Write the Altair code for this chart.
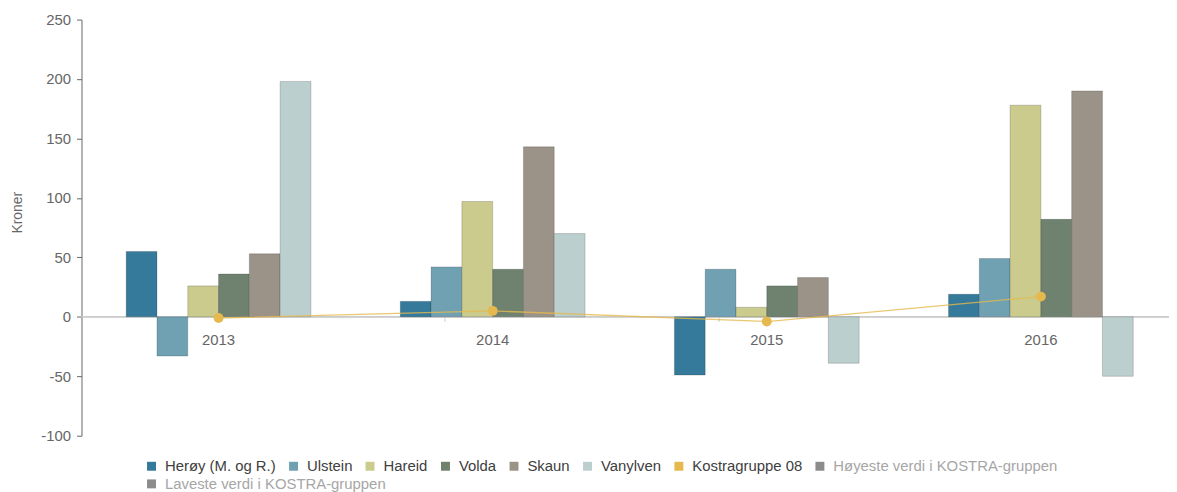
import altair as alt
import pandas as pd

years = ["2013", "2014", "2015", "2016"]
series = ["Herøy (M. og R.)", "Ulstein", "Hareid", "Volda", "Skaun", "Vanylven"]
heroy = [55, 13, -49, 19]
ulstein = [-33, 42, 40, 49]
hareid = [26, 97, 8, 178]
volda = [36, 40, 26, 82]
skaun = [53, 143, 33, 190]
vanylven = [198, 70, -39, -50]
kostra_name = "Kostragruppe 08"
kostra = [-1, 5, -4, 17]
hoyeste_name = "Høyeste verdi i KOSTRA-gruppen"
laveste_name = "Laveste verdi i KOSTRA-gruppen"
legend_names = series + [kostra_name, hoyeste_name]
colors = ["#357a9a", "#70a1b3", "#cacb8c", "#6e826f", "#9b9388", "#bccfcf",
          "#e6b94f", "#8c8c8c"]
hidden_color = "#8c8c8c"
y_ticks = [-100, -50, 0, 50, 100, 150, 200, 250]

values_by_series = [heroy, ulstein, hareid, volda, skaun, vanylven]
rows = []
for name, vals in zip(series, values_by_series):
    for yr, v in zip(years, vals):
        rows.append({"year": yr, "series": name, "value": v})
df = pd.DataFrame(rows)
kdf = pd.DataFrame({"year": years, "series": kostra_name, "value": kostra})
sep_df = pd.DataFrame({"year": years[:-1]})

FONT = "Liberation Sans"
W, H = 1095, 419
STEP = 276
GROUP = 186
LABEL_COLOR_EXPR = "indexof(datum.label, 'KOSTRA-gruppen') >= 0 ? '#a6a6a6' : '#404040'"

# band range is one full step per year; the last band runs past the visible plot edge
x_scale = alt.Scale(range=[0, {"expr": str(4 * STEP)}], paddingInner=(STEP - GROUP) / STEP,
                    paddingOuter=(STEP - GROUP) / 2 / STEP)
x_axis = alt.Axis(
    title=None, orient="bottom", offset=-(H * 100 / 350),
    domain=False, ticks=False,
    labelPadding=16, labelFontSize=15, labelFont=FONT, labelColor="#666666",
    labelAngle=0, grid=False,
)
x_enc = alt.X("year:N", sort=years, scale=x_scale, axis=x_axis)
y_enc = alt.Y(
    "value:Q",
    scale=alt.Scale(domain=[-100, 250], nice=False),
    axis=alt.Axis(
        values=y_ticks, title="Kroner", titleFont=FONT, titleFontSize=14,
        titleFontWeight="normal", titleColor="#666666", titleX=-64, titleY=194,
        titleAngle=270, titleBaseline="middle", titleAlign="center",
        labelFont=FONT, labelFontSize=15, labelColor="#666666", labelPadding=6,
        labelExpr="'' + datum.value",
        domainColor="#666666", tickColor="#666666", tickSize=5, grid=False,
    ),
)

common_legend = dict(
    orient="none", direction="horizontal", title=None, symbolType="square",
    symbolSize=81, symbolStrokeWidth=0, symbolOpacity=1,
    labelFont=FONT, labelFontSize=15, labelColor={"expr": LABEL_COLOR_EXPR},
    labelOffset=6, columnPadding=10, padding=0, labelLimit=0,
)

# zero line (x-axis line drawn at 0) and category separator ticks
zero_line = alt.Chart(kdf).mark_rule(color="#cccccc", strokeWidth=1).encode(
    y=alt.datum(0), x=alt.value(0), x2=alt.value(W)
)
sep_ticks = alt.Chart(sep_df).mark_rule(color="#cccccc", strokeWidth=1).encode(
    x=alt.X("year:N", sort=years, scale=x_scale, axis=x_axis, bandPosition=1),
    xOffset=alt.value((STEP - GROUP) / 2),
    y=alt.datum(0), y2=alt.datum(-4.2),
)

bars = alt.Chart(df).mark_bar(stroke="#000000", strokeOpacity=0.18, strokeWidth=1).encode(
    x=x_enc,
    xOffset=alt.XOffset("series:N", scale=alt.Scale(domain=series, paddingInner=0, paddingOuter=0)),
    y=y_enc,
    color=alt.Color(
        "series:N",
        scale=alt.Scale(domain=legend_names, range=colors),
        legend=alt.Legend(legendX=63, legendY=442, **common_legend),
    ),
)

line = alt.Chart(kdf).mark_line(color="#e6b94f", strokeWidth=1.3, opacity=0.8).encode(
    x=x_enc, y=y_enc
)
pts = alt.Chart(kdf).mark_point(filled=True, size=100, color="#e6b94f", opacity=1).encode(
    x=x_enc, y=y_enc
)
# invisible layer whose only role is the second legend row (a hidden series)
hidden = alt.Chart(kdf).transform_calculate(lav=f"'{laveste_name}'").mark_point(
    filled=True, opacity=0
).encode(
    x=x_enc, y=y_enc,
    fill=alt.Fill(
        "lav:N",
        scale=alt.Scale(domain=[laveste_name], range=[hidden_color]),
        legend=alt.Legend(legendX=63, legendY=460, **common_legend),
    ),
)

chart = alt.layer(zero_line, sep_ticks, bars, line, pts, hidden).properties(
    width=W, height=H,
    autosize=alt.AutoSizeParams(type="none"),
    padding={"left": 74, "top": 10, "right": 0, "bottom": 55},
).configure_view(stroke=None)

chart.save("out.html", embed_options={"renderer": "svg", "actions": False})
